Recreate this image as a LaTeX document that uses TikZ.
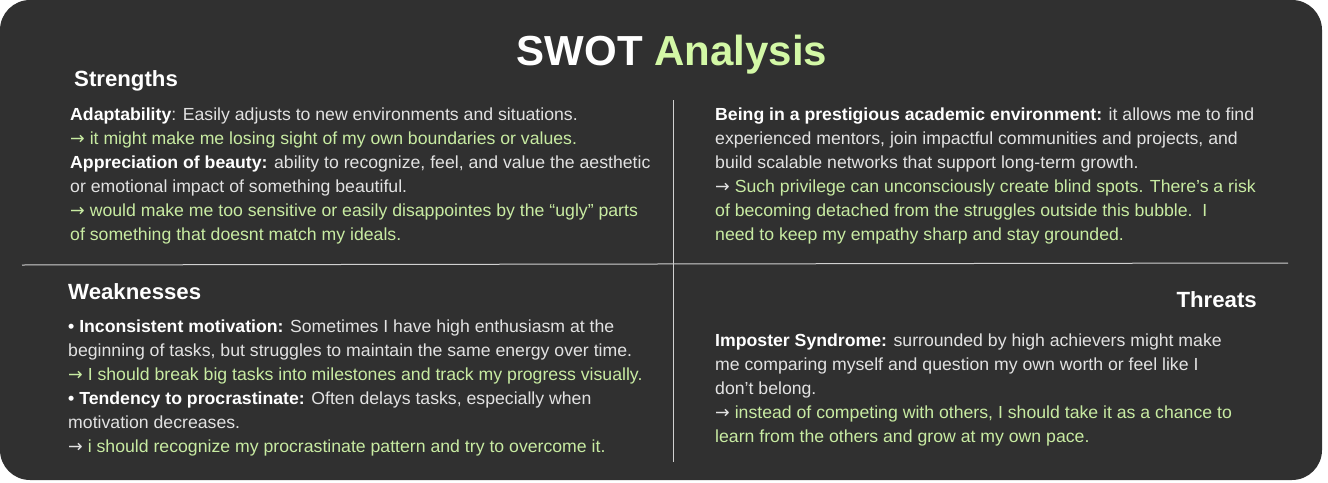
\documentclass[tikz,border=0pt]{standalone}
\usepackage{fontspec}
\setmainfont{Liberation Sans}[FakeStretch=1.01]
\newfontfamily\titlefont{Liberation Sans}
\newfontfamily\arrowfont{DejaVu Sans}
\usetikzlibrary{positioning}

\definecolor{panelbg}{HTML}{303030}
\definecolor{bodytext}{HTML}{E2E2E2}
\definecolor{hintgreen}{HTML}{C8EBA2}
\definecolor{titlegreen}{HTML}{D3F8A6}
\definecolor{rulegray}{HTML}{D0D0D0}

\newcommand{\kw}[1]{{\bfseries\color{white}#1}}
\newcommand{\hint}[1]{{\color{hintgreen}#1}}
\newcommand{\arr}{{\arrowfont →}}

\begin{document}
\begin{tikzpicture}[x=1pt, y=-1pt,
    heading/.style={anchor=base west, inner sep=0pt, text=white,
      font=\fontsize{22}{26}\selectfont\bfseries},
    block/.style={anchor=north west, inner sep=0pt, align=left, text=bodytext,
      font=\fontsize{17.5}{24}\selectfont},
    divider/.style={draw=rulegray, line width=1pt}
  ]
  \useasboundingbox (0,0) rectangle (1328,482);
  \fill[panelbg, rounded corners=30pt] (0,0) rectangle (1322,480);

  % title
  \node[anchor=base, inner sep=0pt, text=white, font=\titlefont\fontsize{42}{48}\selectfont\bfseries]
    (title) at (672,65) {SWOT \textcolor{titlegreen}{Analysis}};

  % quadrant rules
  \draw[divider] (673,100) -- (673,462);
  \draw[divider] (22,265) -- (1288,263);

  % strengths
  \node[heading] (strhead) at (74,86) {Strengths};
  \node[block] (strtext) at (70,108) {%
    \kw{Adaptability}: Easily adjusts to new environments and situations.\\
    \hint{\arr{} it might make me losing sight of my own boundaries or values.}\\
    \kw{Appreciation of beauty:} ability to recognize, feel, and value the aesthetic\\
    or emotional impact of something beautiful.\\
    \hint{\arr{} would make me too sensitive or easily disappointes by the “ugly” parts}\\
    \hint{of something that doesnt match my ideals.}};

  % opportunities
  \node[block] (opptext) at (715,108) {%
    \kw{Being in a prestigious academic environment:} it allows me to find\\
    experienced mentors, join impactful communities and projects, and\\
    build scalable networks that support long-term growth.\\
    \arr{} \hint{Such privilege can unconsciously create blind spots. There’s a risk}\\
    \hint{of becoming detached from the struggles outside this bubble.\ \ I}\\
    \hint{need to keep my empathy sharp and stay grounded.}};

  % weaknesses
  \node[heading] (weakhead) at (68,299) {Weaknesses};
  \node[block] (weaktext) at (68,320) {%
    \kw{• Inconsistent motivation:} Sometimes I have high enthusiasm at the\\
    beginning of tasks, but struggles to maintain the same energy over time.\\
    \hint{\arr{} I should break big tasks into milestones and track my progress visually.}\\
    \kw{• Tendency to procrastinate:} Often delays tasks, especially when\\
    motivation decreases.\\
    \arr{} \hint{i should recognize my procrastinate pattern and try to overcome it.}};

  % threats
  \node[heading, anchor=base east] (threathead) at (1257,307) {Threats};
  \node[block] (threattext) at (715,334) {%
    \kw{Imposter Syndrome:} surrounded by high achievers might make\\
    me comparing myself and question my own worth or feel like I\\
    don’t belong.\\
    \arr{} \hint{instead of competing with others, I should take it as a chance to}\\
    \hint{learn from the others and grow at my own pace.}};
\end{tikzpicture}
\end{document}
